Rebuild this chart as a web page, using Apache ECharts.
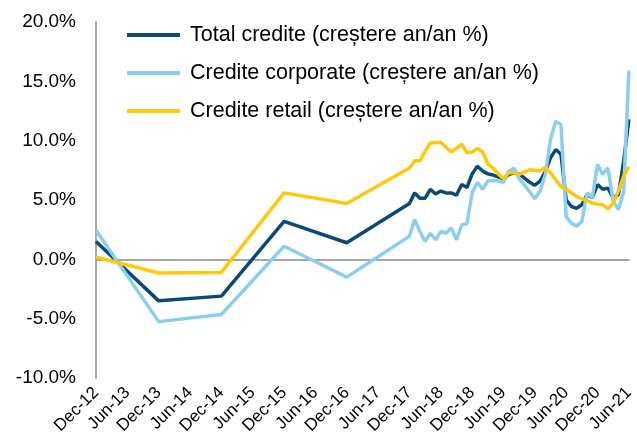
<!DOCTYPE html>
<html>
<head>
<meta charset="utf-8">
<script src="https://cdn.jsdelivr.net/npm/echarts@6/dist/echarts.min.js"></script>
<style>
  html, body { margin: 0; padding: 0; background: #fff; }
  #chart { width: 637px; height: 448px; }
</style>
</head>
<body>
<div id="chart"></div>
<script>
// Luni (axa categoriala lunara), etichete la fiecare 6 luni
const monthNames = ['Jan', 'Feb', 'Mar', 'Apr', 'May', 'Jun', 'Jul', 'Aug', 'Sep', 'Oct', 'Nov', 'Dec'];
const firstMonth = 'Dec-12';
const lastMonth = 'Jun-21';

// Puncte anuale (Dec-12 .. Dec-16)
const annualDates = ['Dec-12', 'Dec-13', 'Dec-14', 'Dec-15', 'Dec-16'];
const totalAnnual = [1.5, -3.5, -3.1, 3.2, 1.4];
const corpAnnual = [2.45, -5.25, -4.65, 1.1, -1.5];
const retailAnnual = [0.2, -1.15, -1.1, 5.6, 4.7];

// Puncte lunare (Dec-17 .. Jun-21)
const monthlyStart = 'Dec-17';
const totalMonthly = [4.7, 5.6, 5.15, 5.15, 5.9, 5.5, 5.75, 5.6, 5.6, 5.4, 6.3, 6.05, 7.2, 7.85, 7.45, 7.2, 7.1, 6.95, 6.75, 7.15, 7.3, 7.2, 6.85, 6.5, 6.25, 6.6, 7.4, 8.55, 9.25, 8.85, 5.0, 4.45, 4.3, 4.6, 5.45, 5.2, 6.3, 5.9, 6.0, 5.2, 5.45, 8.25, 11.8];
const corpMonthly = [1.95, 3.35, 2.35, 1.5, 2.2, 1.65, 2.35, 2.2, 2.65, 1.65, 2.9, 3.0, 5.6, 6.5, 5.9, 6.6, 6.65, 6.6, 6.5, 7.4, 7.7, 6.8, 6.25, 5.7, 5.1, 5.75, 7.15, 10.1, 11.65, 11.35, 3.6, 3.05, 2.8, 3.2, 5.6, 5.2, 8.0, 7.15, 7.7, 4.9, 4.2, 5.7, 15.9];
const retailMonthly = [7.7, 8.3, 8.3, 9.1, 9.8, 9.85, 9.85, 9.45, 9.05, 9.35, 9.7, 9.0, 9.05, 9.35, 9.05, 8.05, 7.7, 7.2, 6.8, 7.3, 7.3, 7.15, 7.35, 7.55, 7.5, 7.45, 7.75, 7.3, 6.7, 6.15, 5.9, 5.6, 5.3, 5.1, 4.95, 4.75, 4.65, 4.6, 4.25, 4.75, 5.75, 7.0, 7.8];

const seriesNames = ['Total credite (creștere an/an %)', 'Credite corporate (creștere an/an %)', 'Credite retail (creștere an/an %)'];
const colors = ['#0b4a78', '#8bcff0', '#ffc80a'];

// construim lista de luni
function buildMonths(from, to) {
  const [m0, y0] = from.split('-');
  const [m1, y1] = to.split('-');
  let m = monthNames.indexOf(m0), y = +y0;
  const endM = monthNames.indexOf(m1), endY = +y1;
  const out = [];
  while (y < endY || (y === endY && m <= endM)) {
    out.push(monthNames[m] + '-' + String(y).padStart(2, '0'));
    m++;
    if (m === 12) { m = 0; y++; }
  }
  return out;
}
const categories = buildMonths(firstMonth, lastMonth);

function buildSeries(annual, monthly) {
  const data = categories.map(() => null);
  annualDates.forEach((d, i) => { data[categories.indexOf(d)] = annual[i]; });
  const start = categories.indexOf(monthlyStart);
  monthly.forEach((v, i) => { data[start + i] = v; });
  return data;
}

const chart = echarts.init(document.getElementById('chart'));
const font = 'Liberation Sans, Arial, sans-serif';

chart.setOption({
  animation: false,
  grid: { left: 96, right: 5, top: 22, bottom: 70 },
  legend: {
    orient: 'vertical',
    left: 122,
    top: 19,
    icon: 'rect',
    itemWidth: 53,
    itemHeight: 4,
    itemGap: 16,
    textStyle: { fontFamily: font, fontSize: 21.5, color: '#000', padding: [0, 0, 0, 5] },
    data: seriesNames
  },
  xAxis: [
    {
      type: 'category',
      data: categories,
      boundaryGap: false,
      axisLine: { show: false, onZero: false },
      axisTick: { show: false },
      axisLabel: {
        interval: 5,
        rotate: 45,
        margin: 12,
        fontFamily: font,
        fontSize: 17,
        color: '#000'
      }
    },
    {
      type: 'category',
      data: categories,
      boundaryGap: false,
      position: 'bottom',
      axisLine: { show: true, onZero: true, lineStyle: { color: '#a6a6a6', width: 2 } },
      axisTick: { show: false },
      axisLabel: { show: false }
    }
  ],
  yAxis: {
    type: 'value',
    min: -10,
    max: 20,
    interval: 5,
    axisLine: { show: true, lineStyle: { color: '#a6a6a6', width: 2 } },
    axisTick: { show: false },
    splitLine: { show: false },
    axisLabel: {
      margin: 20,
      fontFamily: font,
      fontSize: 19,
      color: '#000',
      formatter: v => v.toFixed(1) + '%'
    }
  },
  series: [
    [totalAnnual, totalMonthly],
    [corpAnnual, corpMonthly],
    [retailAnnual, retailMonthly]
  ].map((pair, k) => ({
    name: seriesNames[k],
    type: 'line',
    data: buildSeries(pair[0], pair[1]),
    connectNulls: true,
    showSymbol: false,
    color: colors[k],
    lineStyle: { width: 3.5, color: colors[k] }
  }))
});
</script>
</body>
</html>
